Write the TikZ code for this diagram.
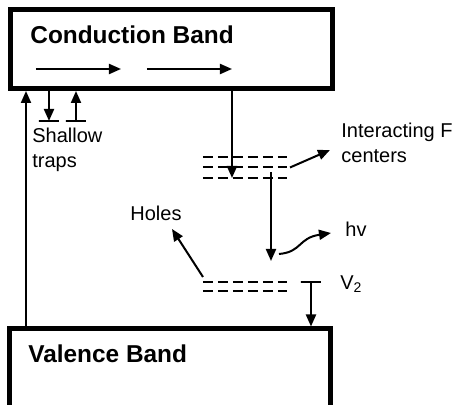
\documentclass[tikz,border=0pt]{standalone}
\usepackage{fontspec}
\setmainfont{Liberation Sans}
\usetikzlibrary{arrows.meta, positioning}

\begin{document}
\begin{tikzpicture}[x=0.5pt, y=-0.5pt,
    bandbox/.style={rectangle, draw=black, line width=2.5pt, inner sep=0pt},
    bandlabel/.style={inner sep=0pt, font=\fontsize{12.2pt}{14pt}\selectfont\bfseries},
    lbl/.style={inner sep=0pt, align=left, font=\fontsize{10pt}{12.5pt}\selectfont},
    level/.style={rectangle, inner sep=0pt, outer sep=0pt, minimum height=0pt, minimum width=42pt},
    levelline/.style={draw=black, line width=1pt, dash pattern=on 5pt off 2.5pt},
    trapbar/.style={rectangle, draw=black, line width=1pt, inner sep=0pt, outer sep=0pt, minimum height=0pt, minimum width=10pt},
    arr/.style={draw=black, line width=1pt, -{Triangle[length=6pt, width=5pt]}}
]
    \useasboundingbox (0,0) rectangle (452,405);
    \clip (0,0) rectangle (452,405);

    % Bands
    \node (cband) [bandbox, minimum width=161pt, minimum height=39.5pt] at (171.5,49) {};
    \node (vband) [bandbox, minimum width=160.5pt, minimum height=65.5pt] at (170,394.5) {};
    \node (clabel) [bandlabel, anchor=base west] at (30,44) {Conduction Band};
    \node (vlabel) [bandlabel, anchor=base west] at (28,363) {Valence Band};

    % Drift arrows inside conduction band
    \coordinate (d1a) at (36,69);
    \coordinate (d1b) at (121,69);
    \coordinate (d2a) at (147,69);
    \coordinate (d2b) at (232,69);
    \draw [arr] (d1a) -- (d1b);
    \draw [arr] (d2a) -- (d2b);

    % Shallow traps
    \node (trap1) [trapbar] at (49,121) {};
    \node (trap2) [trapbar] at (76,121) {};
    \node (shallow) [lbl, anchor=north west] at (32,128) {Shallow\\traps};

    % F centers
    \node (fc1) [level] at (245,157) {};
    \node (fc2) [level] at (245,167.5) {};
    \node (fc3) [level] at (245,178) {};
    \foreach \lv in {fc1,fc2,fc3}
        \draw [levelline] (\lv.west) -- (\lv.east);
    \node (fclabel) [lbl, anchor=north west] at (341,123) {Interacting F\\centers};
    \coordinate (fctip) at (330,150);

    % V2 levels
    \node (v1) [level] at (245,282) {};
    \node (v2) [level] at (245,291) {};
    \foreach \lv in {v1,v2}
        \draw [levelline] (\lv.west) -- (\lv.east);
    \node (v2bar) [trapbar] at (311,282) {};
    \node (v2label) [lbl, anchor=base west] at (340,290) {V\textsubscript{2}};

    % Holes and emission
    \node (holes) [lbl] at (156,213) {Holes};
    \coordinate (holetip) at (172,229);
    \node (hv) [lbl, anchor=base west] at (345,237) {hv};
    \coordinate (hvtip) at (331,233);
    \coordinate (lift) at (26,0);
    \coordinate (fdrop) at (232,0);
    \coordinate (relax) at (271,172);
    \coordinate (emit) at (271,261);

    % Arrows
    \draw [arr] (vband.north -| lift) -- (cband.south -| lift);
    \draw [arr] (cband.south -| trap1) -- (trap1);
    \draw [arr] (trap2) -- (cband.south -| trap2);
    \draw [arr] (cband.south -| fdrop) -- (fc3 -| fdrop);
    \draw [arr] ([xshift=1.5pt]fc2.east) -- (fctip);
    \draw [arr] (relax) -- (emit);
    \draw [arr] (279,254) .. controls (302,252) and (298,238) .. (hvtip);
    \draw [arr] ([yshift=2.5pt]v1.west) -- (holetip);
    \draw [arr] (v2bar) -- (vband.north -| v2bar);
\end{tikzpicture}
\end{document}
